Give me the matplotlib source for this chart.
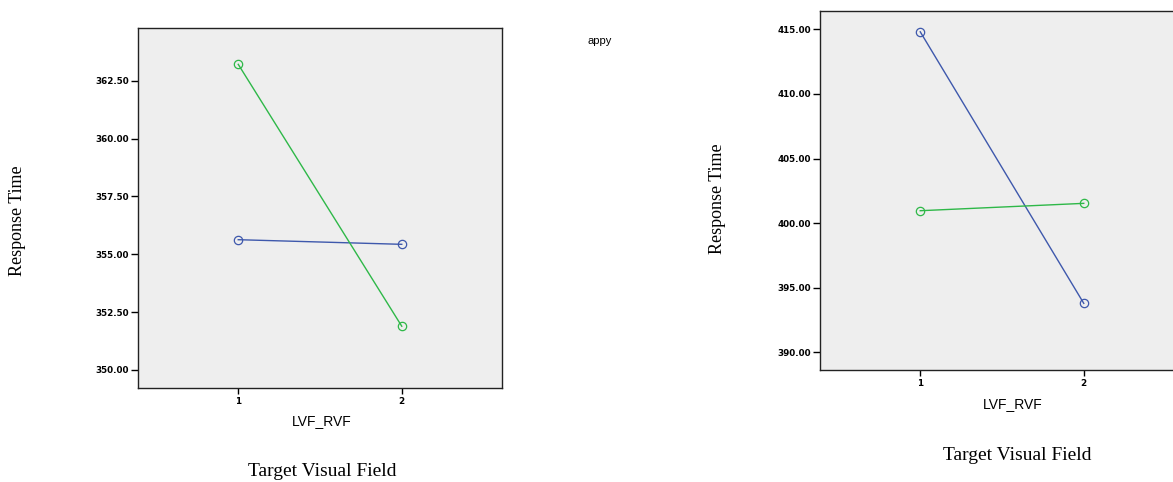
import matplotlib
matplotlib.use('Agg')
import matplotlib.pyplot as plt

# LVF_RVF levels
levels = [1, 2]

# left panel means
left_blue = [355.63, 355.43]
left_green = [363.21, 351.89]
left_yticks = [350.0, 352.5, 355.0, 357.5, 360.0, 362.5]

# right panel means
right_blue = [414.81, 393.79]
right_green = [400.96, 401.53]
right_yticks = [390.0, 395.0, 400.0, 405.0, 410.0, 415.0]

BLUE = '#3e58ac'
GREEN = '#2eb848'
W, H = 1173, 482


def panel(fig, box, blue, green, yticks, ylim):
    """Draws one SPSS style profile plot at pixel box (x0, y0, x1, y1)."""
    x0, y0, x1, y1 = box
    ax = fig.add_axes([x0 / W, 1 - y1 / H, (x1 - x0) / W, (y1 - y0) / H])
    ax.set_facecolor('#eeeeee')
    for ys, c in ((blue, BLUE), (green, GREEN)):
        ax.plot(levels, ys, color=c, lw=1.0, marker='o', ms=6,
                mfc='none', mec=c, mew=0.9)
    ax.set_xlim(0.387, 2.613)
    ax.set_ylim(*ylim)
    ax.set_xticks(levels)
    ax.set_xticklabels([str(v) for v in levels])
    ax.set_yticks(yticks)
    ax.set_yticklabels(['%.2f' % v for v in yticks])
    for lab in ax.get_xticklabels() + ax.get_yticklabels():
        lab.set_fontfamily('DejaVu Sans')
        lab.set_fontweight('bold')
        lab.set_fontsize(6.3)
    ax.tick_params(axis='y', direction='out', length=5, width=1, pad=1.5)
    ax.tick_params(axis='x', direction='out', length=4, width=1, pad=2.5)
    for s in ax.spines.values():
        s.set_linewidth(1.0)
        s.set_color('#222222')
    return ax


fig = plt.figure(figsize=(W / 100, H / 100), dpi=100)

panel(fig, (138, 28, 502, 388), left_blue, left_green, left_yticks,
      (349.22, 364.78))
panel(fig, (820, 11, 1184, 370), right_blue, right_green, right_yticks,
      (388.63, 416.42))

sans = dict(family='Liberation Sans', fontsize=10, ha='center', va='center')
serif = dict(family='Liberation Serif', fontsize=14, ha='center', va='center')

fig.text(322 / W, 1 - 421 / H, 'LVF_RVF', **sans)
fig.text(1013 / W, 1 - 404 / H, 'LVF_RVF', **sans)
fig.text(322 / W, 1 - 472 / H, 'Target Visual Field', **serif)
fig.text(1017 / W, 1 - 455 / H, 'Target Visual Field', **serif)
fig.text(18 / W, 1 - 221 / H, 'Response Time', rotation=90, fontsize=13,
         **{k: v for k, v in serif.items() if k != 'fontsize'})
fig.text(717 / W, 1 - 199 / H, 'Response Time', rotation=90, fontsize=13,
         **{k: v for k, v in serif.items() if k != 'fontsize'})
fig.text(600 / W, 1 - 41 / H, 'appy', family='Liberation Sans', fontsize=8,
         ha='center', va='center')

fig.savefig('out.png', dpi=100)
